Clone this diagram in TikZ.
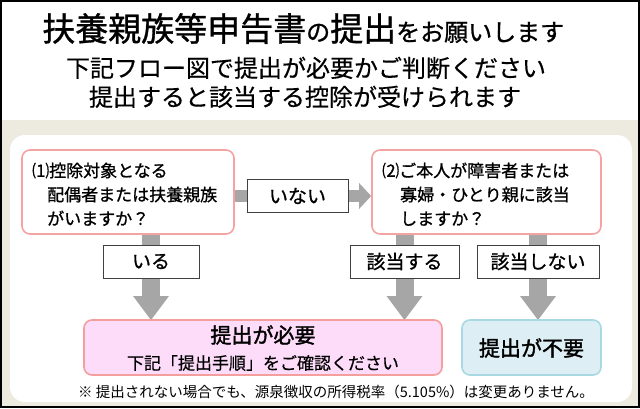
\documentclass[tikz,border=0pt]{standalone}
\usepackage{fontspec}
\setmainfont{Noto Sans CJK JP}
\newfontfamily\jpbold[FakeBold=1.6]{Noto Sans CJK JP}
\newfontfamily\jpmed[FakeBold=1.0]{Noto Sans CJK JP}
\newfontfamily\jplight[FakeBold=0.4]{Noto Sans CJK JP}
\usetikzlibrary{arrows.meta}
\definecolor{beige}{HTML}{EDEAE0}
\definecolor{qborder}{HTML}{F4A3A3}
\definecolor{arrowgray}{HTML}{A6A6A6}
\definecolor{needfill}{HTML}{FDDCF9}
\definecolor{needborder}{HTML}{F49E9E}
\definecolor{notfill}{HTML}{DDEFF4}
\definecolor{notborder}{HTML}{A8D8E2}
\pgfdeclarelayer{bg}
\pgfdeclarelayer{arr}
\pgfsetlayers{bg,arr,main}
\newcommand{\fs}[1]{\fontsize{#1}{#1}\selectfont}
\tikzset{
  qbox/.style={draw=qborder, line width=1.6pt, fill=white, rounded corners=8pt},
  lbl/.style={draw=black!75, line width=0.8pt, fill=white, minimum height=33pt, inner sep=0pt, font=\jpmed\fs{19}},
  vgarrow/.style={draw=arrowgray, line width=18pt, -{Triangle[length=24pt,width=34pt]}},
  hgarrow/.style={draw=arrowgray, line width=12pt, -{Triangle[length=12pt,width=25pt]}},
  qtext/.style={anchor=base west, inner sep=0pt, font=\jpmed\fs{17}},
  rbox/.style={line width=1.6pt, rounded corners=8pt, inner sep=0pt},
}
\begin{document}
\begin{tikzpicture}[x=1pt,y=-1pt]
\useasboundingbox (0,0) rectangle (640,408);
\begin{pgfonlayer}{bg}
  \fill[white] (0,0) rectangle (640,408);
  \fill[beige] (0,120) rectangle (640,408);
  \fill[white, rounded corners=15pt] (10,135) rectangle (632,402);
  \draw[black, line width=2pt] (1,1) rectangle (639,407);
\end{pgfonlayer}

% title
\node[anchor=base west, inner sep=0pt, font=\jpmed] (title) at (42,41)
  {{\fs{33}扶養親族等申告書}{\fs{24}の}{\fs{33}提出}{\fs{24}をお願いします}};
\node[anchor=base, inner sep=0pt, font=\jplight\fs{24}] (sub1) at (306,77) {下記フロー図で提出が必要かご判断ください};
\node[anchor=base, inner sep=0pt, font=\jplight\fs{24}] (sub2) at (305,106) {提出すると該当する控除が受けられます};

% question boxes
\node[qbox, minimum width=212pt, minimum height=84pt] (q1) at (128,192) {};
\node[qbox, minimum width=229pt, minimum height=84pt] (q2) at (486.5,192) {};
\node[qtext] (q1a) at (32,177) {⑴控除対象となる};
\node[qtext] (q1b) at (47,201) {配偶者または扶養親族};
\node[qtext] (q1c) at (47,225) {がいますか？};
\node[qtext] (q2a) at (382,177) {⑵ご本人が障害者または};
\node[qtext] (q2b) at (400,201) {寡婦・ひとり親に該当};
\node[qtext] (q2c) at (400,225) {しますか？};

% result boxes
\node[rbox, draw=needborder, fill=needfill, minimum width=358pt, minimum height=55pt] (need) at (263,347.5) {};
\node[rbox, draw=notborder, fill=notfill, minimum width=139pt, minimum height=55pt] (notneed) at (531.5,347.5) {};
\node[anchor=center, inner sep=0pt, font=\jpbold\fs{21}] (needt) at (263,335) {提出が必要};
\node[anchor=center, inner sep=0pt, font=\jplight\fs{17}] (needs) at (263,363) {下記「提出手順」をご確認ください};
\node[anchor=center, inner sep=0pt, font=\jpbold\fs{21}] (notneedt) at (531.5,348) {提出が不要};

% label boxes
\node[lbl, minimum width=101pt] (inai) at (297.5,196) {いない};
\node[lbl, minimum width=96pt] (iru) at (151,261.5) {いる};
\node[lbl, minimum width=109pt] (gai) at (404.5,261.5) {該当する};
\node[lbl, minimum width=122pt] (gainai) at (538,261.5) {該当しない};

% arrows
\begin{pgfonlayer}{arr}
  \draw[hgarrow] (q1.east |- inai.center) -- (q2.west |- inai.center);
  \draw[vgarrow] (q1.south -| iru.center) -- ([yshift=-1pt]need.north -| iru.center);
  \draw[vgarrow] (q2.south -| gai.center) -- ([yshift=-1pt]need.north -| gai.center);
  \draw[vgarrow] (q2.south -| gainai.center) -- ([yshift=-1pt]notneed.north -| gainai.center);
\end{pgfonlayer}

% footnote
\node[anchor=base, inner sep=0pt, font=\fs{14.5}] (note) at (336,397.5) {※ 提出されない場合でも、源泉徴収の所得税率（5.105\%）は変更ありません。};
\end{tikzpicture}
\end{document}
